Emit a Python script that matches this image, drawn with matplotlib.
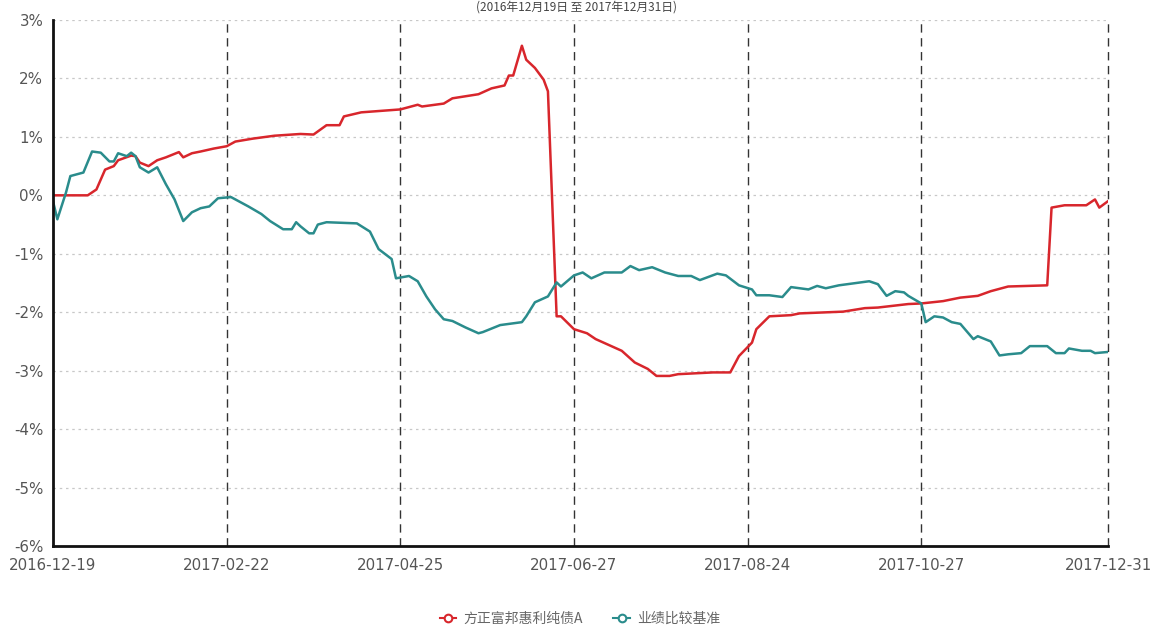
import matplotlib
matplotlib.use("Agg")
import matplotlib.pyplot as plt
from matplotlib.lines import Line2D
from matplotlib.ticker import FuncFormatter

plt.rcParams['font.family'] = ['DejaVu Sans', 'Noto Sans CJK SC']

# ---------------- data ----------------
title_text = "(2016年12月19日 至 2017年12月31日)"
series_names = ["方正富邦惠利纯债A", "业绩比较基准"]
tick_idx = [0, 40, 80, 120, 160, 200, 243]
tick_labels = ["2016-12-19", "2017-02-22", "2017-04-25", "2017-06-27",
               "2017-08-24", "2017-10-27", "2017-12-31"]
y_ticks = [-6, -5, -4, -3, -2, -1, 0, 1, 2, 3]

fund_x = [0, 8, 10, 12, 14, 15, 18, 19, 20, 22, 24, 26, 29, 30, 32, 34, 37, 40,
          42, 46, 51, 55, 57, 60, 63, 66, 67, 71, 80, 84, 85, 90, 92, 98, 101,
          104, 105, 106, 108, 109, 111, 113, 114, 116, 117, 120, 123, 125, 131,
          134, 137, 139, 142, 144, 152, 156, 158, 161, 162, 165, 170, 172, 182,
          187, 190, 197, 200, 205, 209, 213, 216, 220, 229, 230, 233, 238, 240,
          241, 243]
fund_y = [0.00, 0.00, 0.10, 0.44, 0.50, 0.60, 0.68, 0.67, 0.56, 0.50, 0.60,
          0.65, 0.74, 0.65, 0.72, 0.75, 0.80, 0.84, 0.92, 0.97, 1.02, 1.04,
          1.05, 1.04, 1.20, 1.20, 1.35, 1.42, 1.47, 1.55, 1.52, 1.57, 1.66,
          1.73, 1.83, 1.88, 2.05, 2.05, 2.56, 2.32, 2.18, 1.98, 1.78, -2.07,
          -2.07, -2.29, -2.36, -2.46, -2.66, -2.86, -2.97, -3.09, -3.09, -3.06,
          -3.03, -3.03, -2.75, -2.52, -2.29, -2.07, -2.05, -2.02, -1.99, -1.93,
          -1.92, -1.86, -1.85, -1.81, -1.75, -1.72, -1.64, -1.56, -1.54, -0.21,
          -0.17, -0.17, -0.07, -0.21, -0.10]

bench_x = [0, 1, 3, 4, 7, 9, 11, 13, 14, 15, 17, 18, 19, 20, 22, 24, 26, 28,
           30, 32, 34, 36, 38, 41, 45, 48, 50, 53, 55, 56, 57, 59, 60, 61, 63,
           70, 73, 75, 78, 79, 82, 84, 86, 88, 90, 92, 95, 98, 99, 103, 108,
           109, 111, 114, 116, 117, 120, 122, 124, 127, 131, 133, 135, 138, 141,
           144, 147, 149, 153, 155, 158, 161, 162, 165, 168, 170, 174, 176, 178,
           181, 185, 188, 190, 192, 194, 196, 197, 200, 201, 203, 205, 207, 209,
           212, 213, 216, 218, 220, 223, 225, 229, 231, 233, 234, 237, 239, 240,
           243]
bench_y = [-0.10, -0.41, 0.05, 0.33, 0.39, 0.75, 0.73, 0.58, 0.58, 0.72, 0.67,
           0.73, 0.67, 0.48, 0.39, 0.48, 0.19, -0.07, -0.44, -0.29, -0.22,
           -0.19, -0.05, -0.03, -0.19, -0.32, -0.44, -0.58, -0.58, -0.46, -0.53,
           -0.65, -0.65, -0.50, -0.46, -0.48, -0.62, -0.92, -1.09, -1.42, -1.38,
           -1.47, -1.73, -1.95, -2.12, -2.15, -2.26, -2.36, -2.34, -2.22, -2.17,
           -2.07, -1.83, -1.73, -1.49, -1.56, -1.37, -1.32, -1.42, -1.32, -1.32,
           -1.21, -1.28, -1.23, -1.32, -1.38, -1.38, -1.45, -1.34, -1.37, -1.54,
           -1.61, -1.71, -1.71, -1.74, -1.57, -1.61, -1.55, -1.59, -1.54, -1.50,
           -1.47, -1.52, -1.72, -1.64, -1.66, -1.72, -1.85, -2.17, -2.07, -2.09,
           -2.17, -2.20, -2.46, -2.41, -2.50, -2.74, -2.72, -2.70, -2.58, -2.58,
           -2.70, -2.70, -2.62, -2.66, -2.66, -2.70, -2.68]

# ---------------- styling ----------------
red = "#d8262c"
teal = "#2a8c8c"
label_color = "#555555"

fig = plt.figure(figsize=(11.53, 6.29), dpi=100)
ax = fig.add_axes([53 / 1153, 1 - 546 / 629, (1108 - 53) / 1153, (546 - 20) / 629])

ax.plot(fund_x, fund_y, color=red, lw=1.8, zorder=3, solid_joinstyle='round')
ax.plot(bench_x, bench_y, color=teal, lw=1.8, zorder=3, solid_joinstyle='round')

ax.set_xlim(tick_idx[0], tick_idx[-1])
ax.set_ylim(y_ticks[0], y_ticks[-1])
ax.set_yticks(y_ticks)
ax.yaxis.set_major_formatter(FuncFormatter(lambda v, p: f"{int(v)}%"))
ax.set_xticks(tick_idx)
ax.set_xticklabels(tick_labels)

ax.tick_params(axis='both', length=0, labelsize=10.8, colors=label_color)
ax.tick_params(axis='y', pad=7)
ax.tick_params(axis='x', pad=9)

# grid: dotted horizontal, dashed vertical
for yv in y_ticks:
    ax.axhline(yv, color="#c8c8c8", lw=0.9, ls=(0, (2, 3)), zorder=1)
for xv in tick_idx[1:]:
    ax.axvline(xv, color="#333333", lw=1.0, ls=(0, (6, 4)), zorder=2, clip_on=False)

for s in ['top', 'right']:
    ax.spines[s].set_visible(False)
for s in ['left', 'bottom']:
    ax.spines[s].set_color("#111111")
    ax.spines[s].set_linewidth(2.0)
    ax.spines[s].set_zorder(4)

# legend
handles = [Line2D([0], [0], color=red, lw=1.5, marker='o', markersize=5.5,
                  markerfacecolor='white', markeredgecolor=red, markeredgewidth=1.5),
           Line2D([0], [0], color=teal, lw=1.5, marker='o', markersize=5.5,
                  markerfacecolor='white', markeredgecolor=teal, markeredgewidth=1.5)]
leg = fig.legend(handles, series_names, loc='center', bbox_to_anchor=(580 / 1153, 1 - 619 / 629),
                 ncol=2, frameon=False, handlelength=1.2, handletextpad=0.5,
                 columnspacing=2.2,
                 prop={'family': ['Noto Sans CJK SC', 'DejaVu Sans'], 'size': 10})
for t in leg.get_texts():
    t.set_color("#666666")

# title at the very top (cut off in the reference, kept small and visible here)
fig.text(577 / 1153, 1 - 1 / 629, title_text, ha='center', va='top', fontsize=8.5,
         color="#444444", family=['Noto Sans CJK SC', 'DejaVu Sans'])

fig.savefig("out.png", dpi=100)
